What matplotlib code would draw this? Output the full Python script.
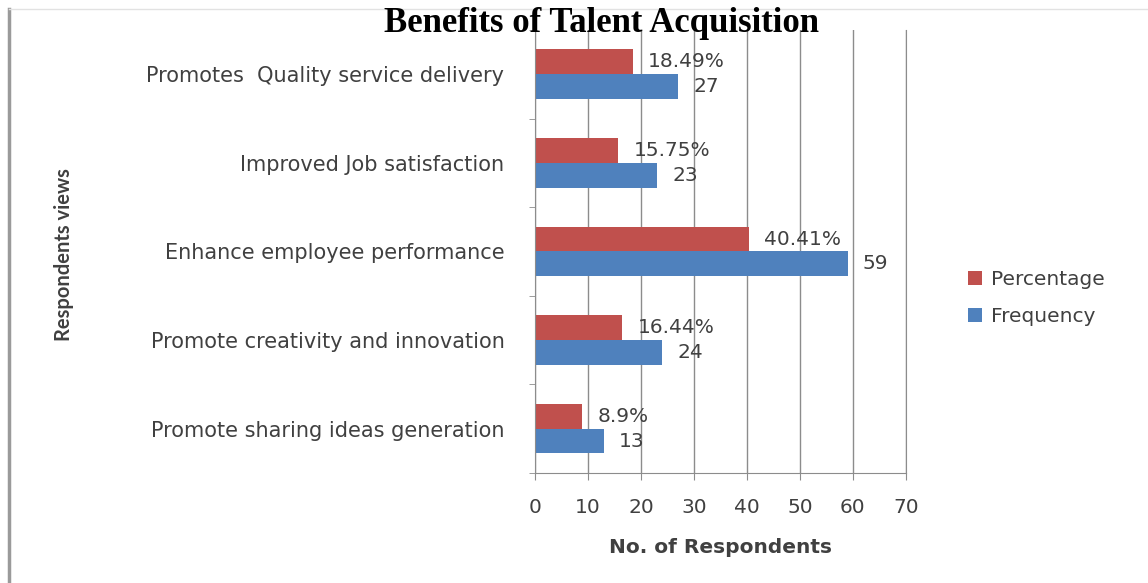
import numpy as np
import matplotlib
matplotlib.use("Agg")
import matplotlib.pyplot as plt
from matplotlib.lines import Line2D

# survey results
views = ["Promote sharing ideas generation",
         "Promote creativity and innovation",
         "Enhance employee performance",
         "Improved Job satisfaction",
         "Promotes  Quality service delivery"]
frequency = [13, 24, 59, 23, 27]
percentage = [8.9, 16.44, 40.41, 15.75, 18.49]

red = "#C0504D"
blue = "#4F81BD"
txt = "#404040"
grid_c = "#8C8C8C"

plt.rcParams["font.family"] = ["DejaVu Sans"]

fig = plt.figure(figsize=(11.48, 5.83), dpi=100)
ax = fig.add_axes([0.466, 0.1887, 0.323, 0.760])

y = np.arange(len(views))
h = 0.28
ax.barh(y + h / 2, percentage, height=h, color=red, label="Percentage", zorder=3)
ax.barh(y - h / 2, frequency, height=h, color=blue, label="Frequency", zorder=3)

# value labels at the bar ends
for yi, p, f in zip(y, percentage, frequency):
    ax.annotate(f"{p:g}%", (p, yi + h / 2), xytext=(11, 0), textcoords="offset points",
                ha="left", va="center", fontsize=14.5, color=txt)
    ax.annotate(f"{f}", (f, yi - h / 2), xytext=(11, 0), textcoords="offset points",
                ha="left", va="center", fontsize=14.5, color=txt)

ax.set_xlim(0, 70)
ax.set_ylim(-0.5, len(views) - 0.5)
ax.set_xticks(np.arange(0, 71, 10))
ax.set_yticks(y)
ax.set_yticklabels(views)
ax.set_yticks(np.arange(-0.5, len(views), 1), minor=True)
ax.tick_params(axis="y", which="major", length=0, pad=22, labelsize=15, labelcolor=txt)
ax.tick_params(axis="y", which="minor", length=4, color=grid_c, direction="out")
ax.tick_params(axis="x", length=5, color=grid_c, labelsize=14.5, labelcolor=txt, pad=13)

ax.grid(axis="x", color=grid_c, lw=1, zorder=0)
ax.spines["top"].set_visible(False)
for s in ["left", "bottom", "right"]:
    ax.spines[s].set_color(grid_c)
    ax.spines[s].set_zorder(4)

ax.set_xlabel("No. of Respondents", fontsize=14.5, fontweight="bold", color=txt, labelpad=15)
fig.text(0.056, 0.563, "Respondents views", rotation=90, ha="center", va="center",
         fontsize=14.5, fontweight="bold", color=txt, family=["Lato", "DejaVu Sans"])

fig.text(0.524, 0.96, "Benefits of Talent Acquisition", ha="center", va="center",
         fontsize=25, fontweight="bold", family=["Liberation Serif", "DejaVu Serif"], color="black")

ax.legend(loc="center left", bbox_to_anchor=(1.12, 0.395),
          frameon=False, fontsize=14.5, handlelength=0.7, handleheight=0.7,
          handletextpad=0.4, labelspacing=0.9, labelcolor=txt)

# page border
fig.add_artist(Line2D([0.008, 0.008], [0.0, 0.985], color="#9A9A9A", lw=2.5))
fig.add_artist(Line2D([0.008, 1.0], [0.985, 0.985], color="#E2E2E2", lw=1))

fig.savefig("out.png", dpi=100)
